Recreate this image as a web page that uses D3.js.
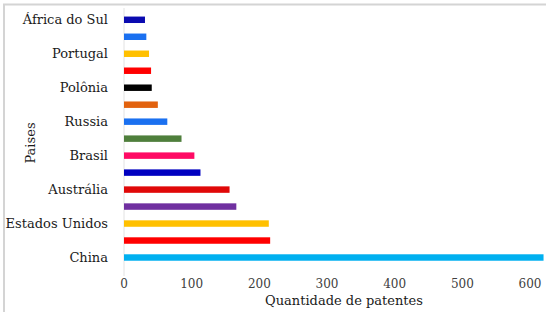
<!DOCTYPE html>
<html>
<head>
<meta charset="utf-8">
<script src="https://cdn.jsdelivr.net/npm/d3@7"></script>
<style>
  body { margin: 0; background: #fff; }
</style>
</head>
<body>
<div id="chart"></div>
<script>
// bottom to top, labels only on every other bar (as in the original)
const countries = ["China", "", "Estados Unidos", "", "Austrália", "", "Brasil", "", "Russia", "", "Polônia", "", "Portugal", "", "África do Sul"]
const patents = [620, 216, 214, 166, 156, 113, 104, 85, 64, 50, 41, 40, 37, 33, 31]
const barColors = ["#00b0f0", "#ff0000", "#ffc000", "#7030a0", "#e00808", "#0000c0", "#ff0a64",
  "#4f7f3c", "#1a70f0", "#e2620e", "#000000", "#ff0000", "#ffc000", "#1a70f0", "#0a0ab0"]
const xTicks = [0, 100, 200, 300, 400, 500, 600]

const width = 546, height = 314
const serif = "DejaVu Serif"

const svg = d3.select("#chart").append("svg")
  .attr("width", width)
  .attr("height", height)
  .style("font-family", serif)

// frame lines (top and left only, like the scanned figure)
svg.append("line").attr("x1", 3).attr("x2", width).attr("y1", 4.5).attr("y2", 4.5)
  .attr("stroke", "#d4d4d4").attr("stroke-width", 2)
svg.append("line").attr("x1", 4).attr("x2", 4).attr("y1", 4).attr("y2", 312)
  .attr("stroke", "#d4d4d4").attr("stroke-width", 2)

const x = d3.scaleLinear()
  .domain([0, 600])
  .range([124, 530])

const y = d3.scaleBand()
  .domain(d3.range(countries.length))
  .range([266, 11.3])
  .paddingInner(0.62)
  .paddingOuter(0.31)

// vertical axis line
svg.append("line")
  .attr("x1", x(0)).attr("x2", x(0))
  .attr("y1", 8).attr("y2", 276)
  .attr("stroke", "#e2e2e2")

svg.append("g")
  .selectAll("rect")
  .data(patents)
  .enter().append("rect")
  .attr("x", x(0))
  .attr("y", (d, i) => y(i))
  .attr("height", y.bandwidth())
  .attr("width", d => x(d) - x(0))
  .attr("fill", (d, i) => barColors[i])

// category labels
svg.append("g")
  .selectAll("text")
  .data(countries)
  .enter().append("text")
  .attr("x", 108)
  .attr("y", (d, i) => y(i) + y.bandwidth() / 2)
  .attr("dy", "0.35em")
  .attr("text-anchor", "end")
  .attr("font-size", 13)
  .attr("fill", "#1a1a1a")
  .text(d => d)

// x tick labels
svg.append("g")
  .selectAll("text")
  .data(xTicks)
  .enter().append("text")
  .attr("x", d => x(d))
  .attr("y", 288)
  .attr("text-anchor", "middle")
  .attr("font-size", 12)
  .attr("fill", "#404040")
  .text(d => d)

svg.append("text")
  .attr("x", 344)
  .attr("y", 305)
  .attr("text-anchor", "middle")
  .attr("font-size", 13)
  .attr("fill", "#1a1a1a")
  .text("Quantidade de patentes")

svg.append("text")
  .attr("transform", "translate(35,143)rotate(-90)")
  .attr("text-anchor", "middle")
  .attr("font-size", 13)
  .attr("fill", "#1a1a1a")
  .text("Paises")
</script>
</body>
</html>
